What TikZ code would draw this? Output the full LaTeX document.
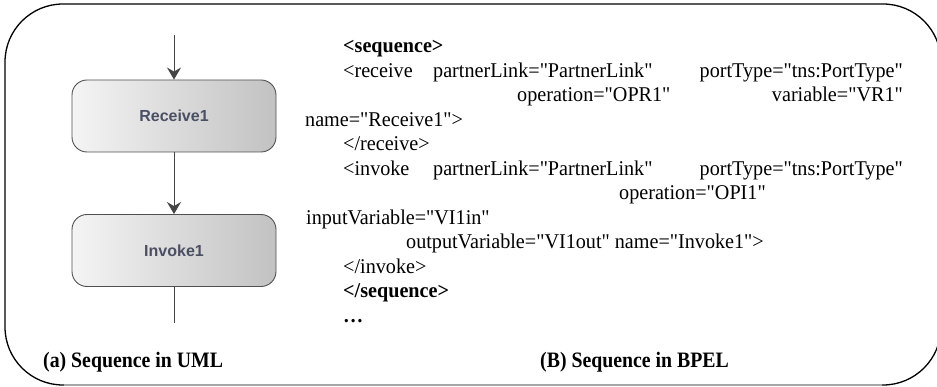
\documentclass[tikz,border=0pt]{standalone}
\usepackage{fontspec}
\usetikzlibrary{arrows.meta}
\newfontfamily\bp{Liberation Serif}[FakeStretch=0.96]
\newfontfamily\bpc{Liberation Serif}[FakeStretch=0.9]
\newfontfamily\sansf{Liberation Sans}
\definecolor{boxtext}{HTML}{4B4F63}
\definecolor{boxline}{HTML}{505050}
\definecolor{arr}{HTML}{454545}
\definecolor{shadeL}{HTML}{F4F4F4}
\definecolor{shadeR}{HTML}{C2C2C2}
\begin{document}
\begin{tikzpicture}[x=1pt,y=-1pt,
  code/.style={anchor=base west, inner sep=0pt, font=\bp\fontsize{21}{25}\selectfont},
  coder/.style={code, anchor=base east},
  codeb/.style={code, font=\bp\bfseries\fontsize{21}{25}\selectfont},
  capt/.style={anchor=base west, inner sep=0pt, font=\bpc\bfseries\fontsize{22}{26}\selectfont},
  act/.style={draw=boxline, line width=0.9pt, rounded corners=15pt,
    minimum width=204pt, minimum height=72pt, inner sep=0pt,
    left color=shadeL, right color=shadeR,
    font=\sansf\bfseries\fontsize{16}{18}\selectfont, text=boxtext},
  flow/.style={draw=arr, line width=1pt, -{Stealth[length=12pt,width=14pt,inset=4pt]}},
  plain/.style={draw=arr, line width=1pt}]
\useasboundingbox (0,0) rectangle (937,387);
\clip (0,0) rectangle (937,387);
% frame
\draw[line width=1.3pt, rounded corners=58pt] (5,200) -- (5,4) -- (941,4) -- (941,385) -- (5,385) -- cycle;
\draw[line width=1.3pt, color=gray!70] (64,385) -- (882,385);
% UML
\coordinate (in) at (174,35);
\node[act] (r1) at (174,116) {Receive1};
\node[act] (i1) at (174,250.5) {Invoke1};
\coordinate (out) at (174,323);
\draw[flow] (in) -- (r1.north);
\draw[flow] (r1.south) -- (i1.north);
\draw[plain] (i1.south) -- (out);
% BPEL code
\node[codeb] (l1) at (343,53) {<sequence>};
\node[code] (l2a) at (343,77.5) {<receive};
\node[code] (l2b) at (433,77.5) {partnerLink="PartnerLink"};
\node[coder] (l2c) at (903,77.5) {portType="tns:PortType"};
\node[code] (l3a) at (517,102) {operation="OPR1"};
\node[coder] (l3b) at (903,102) {variable="VR1"};
\node[code] (l4) at (305,126.5) {name="Receive1">};
\node[code] (l5) at (343,151) {</receive>};
\node[code] (l6a) at (343,175.5) {<invoke};
\node[code] (l6b) at (433,175.5) {partnerLink="PartnerLink"};
\node[coder] (l6c) at (903,175.5) {portType="tns:PortType"};
\node[code] (l7) at (619,200) {operation="OPI1"};
\node[code] (l8) at (306,224.5) {inputVariable="VI1in"};
\node[code] (l9) at (406,249) {outputVariable="VI1out" name="Invoke1">};
\node[code] (l10) at (343,273.5) {</invoke>};
\node[codeb] (l11) at (343,298) {</sequence>};
\node[codeb] (l12) at (343,322.5) {…};
% captions
\node[capt] (ca) at (43,367) {(a) Sequence in UML};
\node[capt] (cb) at (540,367) {(B) Sequence in BPEL};
\end{tikzpicture}
\end{document}
